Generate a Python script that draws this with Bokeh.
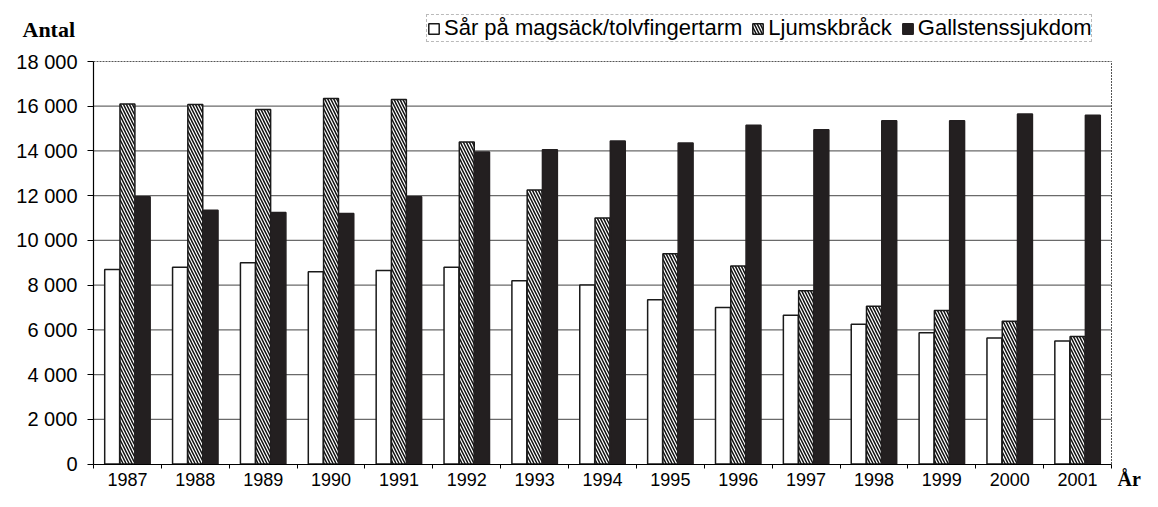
from bokeh.plotting import figure
from bokeh.models import Range1d, FixedTicker, Legend, LegendItem, Label, ColumnDataSource
from bokeh.transform import dodge
from bokeh.embed import file_html
from bokeh.resources import INLINE

# ---- data ----
years = [1987, 1988, 1989, 1990, 1991, 1992, 1993, 1994, 1995, 1996, 1997, 1998, 1999, 2000, 2001]
sar = [8700, 8800, 9000, 8600, 8650, 8800, 8200, 8000, 7350, 7000, 6650, 6250, 5870, 5630, 5500]
ljumsk = [16100, 16080, 15850, 16350, 16300, 14400, 12250, 11000, 9400, 8850, 7750, 7060, 6870, 6380, 5700]
galls = [11950, 11350, 11250, 11200, 11950, 13950, 14050, 14450, 14350, 15150, 14950, 15350, 15350, 15650, 15600]
series_names = ["Sår på magsäck/tolvfingertarm", "Ljumskbråck", "Gallstenssjukdom"]
y_ticks = [0, 2000, 4000, 6000, 8000, 10000, 12000, 14000, 16000, 18000]
y_title = "Antal"
x_title = "År"

# ---- layout (pixels) ----
W, H = 1142, 491
FL, FR, FT, FB = 93, 1111, 61, 463.5   # plot-area edges on the canvas

x0, x1 = years[0] - 0.5, years[-1] + 0.5
y0, y1 = y_ticks[0], y_ticks[-1]
kx = (x1 - x0) / (FR - FL)
ky = (y1 - y0) / (FB - FT)

src = ColumnDataSource(dict(year=years, sar=sar, ljumsk=ljumsk, galls=galls))

p = figure(width=W, height=H,
           x_range=Range1d(x0 - FL * kx, x1 + (W - FR) * kx),
           y_range=Range1d(y0 - (H - FB) * ky, y1 + FT * ky),
           output_backend="svg", toolbar_location=None)
p.min_border = 0
p.outline_line_color = None
p.background_fill_color = "white"
p.border_fill_color = "white"
p.xgrid.visible = False
p.ygrid.visible = False

# gridlines, top border and right border of the plot area
inner = y_ticks[1:-1]
p.segment(x0=[x0] * len(inner), x1=[x1] * len(inner), y0=inner, y1=inner,
          line_color="#6a6a6a", line_width=1.2)
p.segment(x0=[x0], x1=[x1], y0=[y1], y1=[y1], line_color="#555555", line_width=1, line_dash="2 1")
p.segment(x0=[x1], x1=[x1], y0=[y0], y1=[y1], line_color="#555555", line_width=1, line_dash="2 1")

bw = 0.22
r1 = p.vbar(x=dodge("year", -0.225, range=p.x_range), top="sar", width=bw, source=src,
            fill_color="white", line_color="#1a1a1a", line_width=1.5)
r2 = p.vbar(x=dodge("year", 0.0, range=p.x_range), top="ljumsk", width=bw, source=src,
            fill_color="white", line_color="#1a1a1a", line_width=1.5,
            hatch_pattern="left_diagonal_line", hatch_color="#111111",
            hatch_scale=6, hatch_weight=1.5)
r3 = p.vbar(x=dodge("year", 0.225, range=p.x_range), top="galls", width=bw, source=src,
            fill_color="#231f20", line_color="#231f20", line_width=1.5)

# y axis, fixed at the left edge of the plot area
yax = p.yaxis[0]
yax.fixed_location = x0
yax.bounds = (y0, y1)
yax.ticker = FixedTicker(ticks=y_ticks)
yax.major_label_overrides = {t: f"{t:,}".replace(",", " ") for t in y_ticks}
yax.major_label_text_font = "Liberation Sans"
yax.major_label_text_font_size = "20px"
yax.major_label_text_color = "black"
yax.major_tick_out = 6
yax.major_tick_in = 0
yax.minor_tick_line_color = None
yax.major_label_standoff = 10
yax.axis_line_color = "black"
yax.axis_line_width = 1.2

# x axis, fixed at zero
xax = p.xaxis[0]
xax.fixed_location = y0
xax.bounds = (x0, x1)
xax.ticker = FixedTicker(ticks=years, minor_ticks=[y - 0.5 for y in years] + [x1])
xax.major_label_text_font = "Liberation Sans"
xax.major_label_text_font_size = "18px"
xax.major_label_text_color = "black"
xax.major_tick_out = 0
xax.major_tick_in = 0
xax.minor_tick_out = 4
xax.minor_tick_in = 0
xax.minor_tick_line_color = "black"
xax.major_label_standoff = 5
xax.axis_line_color = "black"
xax.axis_line_width = 1.2

legend = Legend(items=[LegendItem(label=series_names[0], renderers=[r1]),
                       LegendItem(label=series_names[1], renderers=[r2]),
                       LegendItem(label=series_names[2], renderers=[r3])],
                orientation="horizontal", location=(426, H - 42),
                label_text_font="Liberation Sans", label_text_font_size="22px",
                label_text_color="black",
                glyph_width=13, glyph_height=13, label_standoff=4, spacing=9,
                padding=0, margin=0, label_height=20,
                border_line_color="#777777", border_line_width=1, border_line_dash="1 1",
                background_fill_color="white", background_fill_alpha=1)
p.add_layout(legend, "center")

p.add_layout(Label(x=22, y=H - 29, x_units="screen", y_units="screen", text=y_title,
                   text_font="Liberation Serif", text_font_style="bold", text_font_size="22px",
                   text_color="black", text_baseline="alphabetic", text_align="left"))
p.add_layout(Label(x=1117, y=13, x_units="screen", y_units="screen", text=x_title,
                   text_font="Liberation Serif", text_font_style="bold", text_font_size="20px",
                   text_color="black", text_baseline="alphabetic", text_align="left"))

open("out.html", "w").write(file_html(p, INLINE))
